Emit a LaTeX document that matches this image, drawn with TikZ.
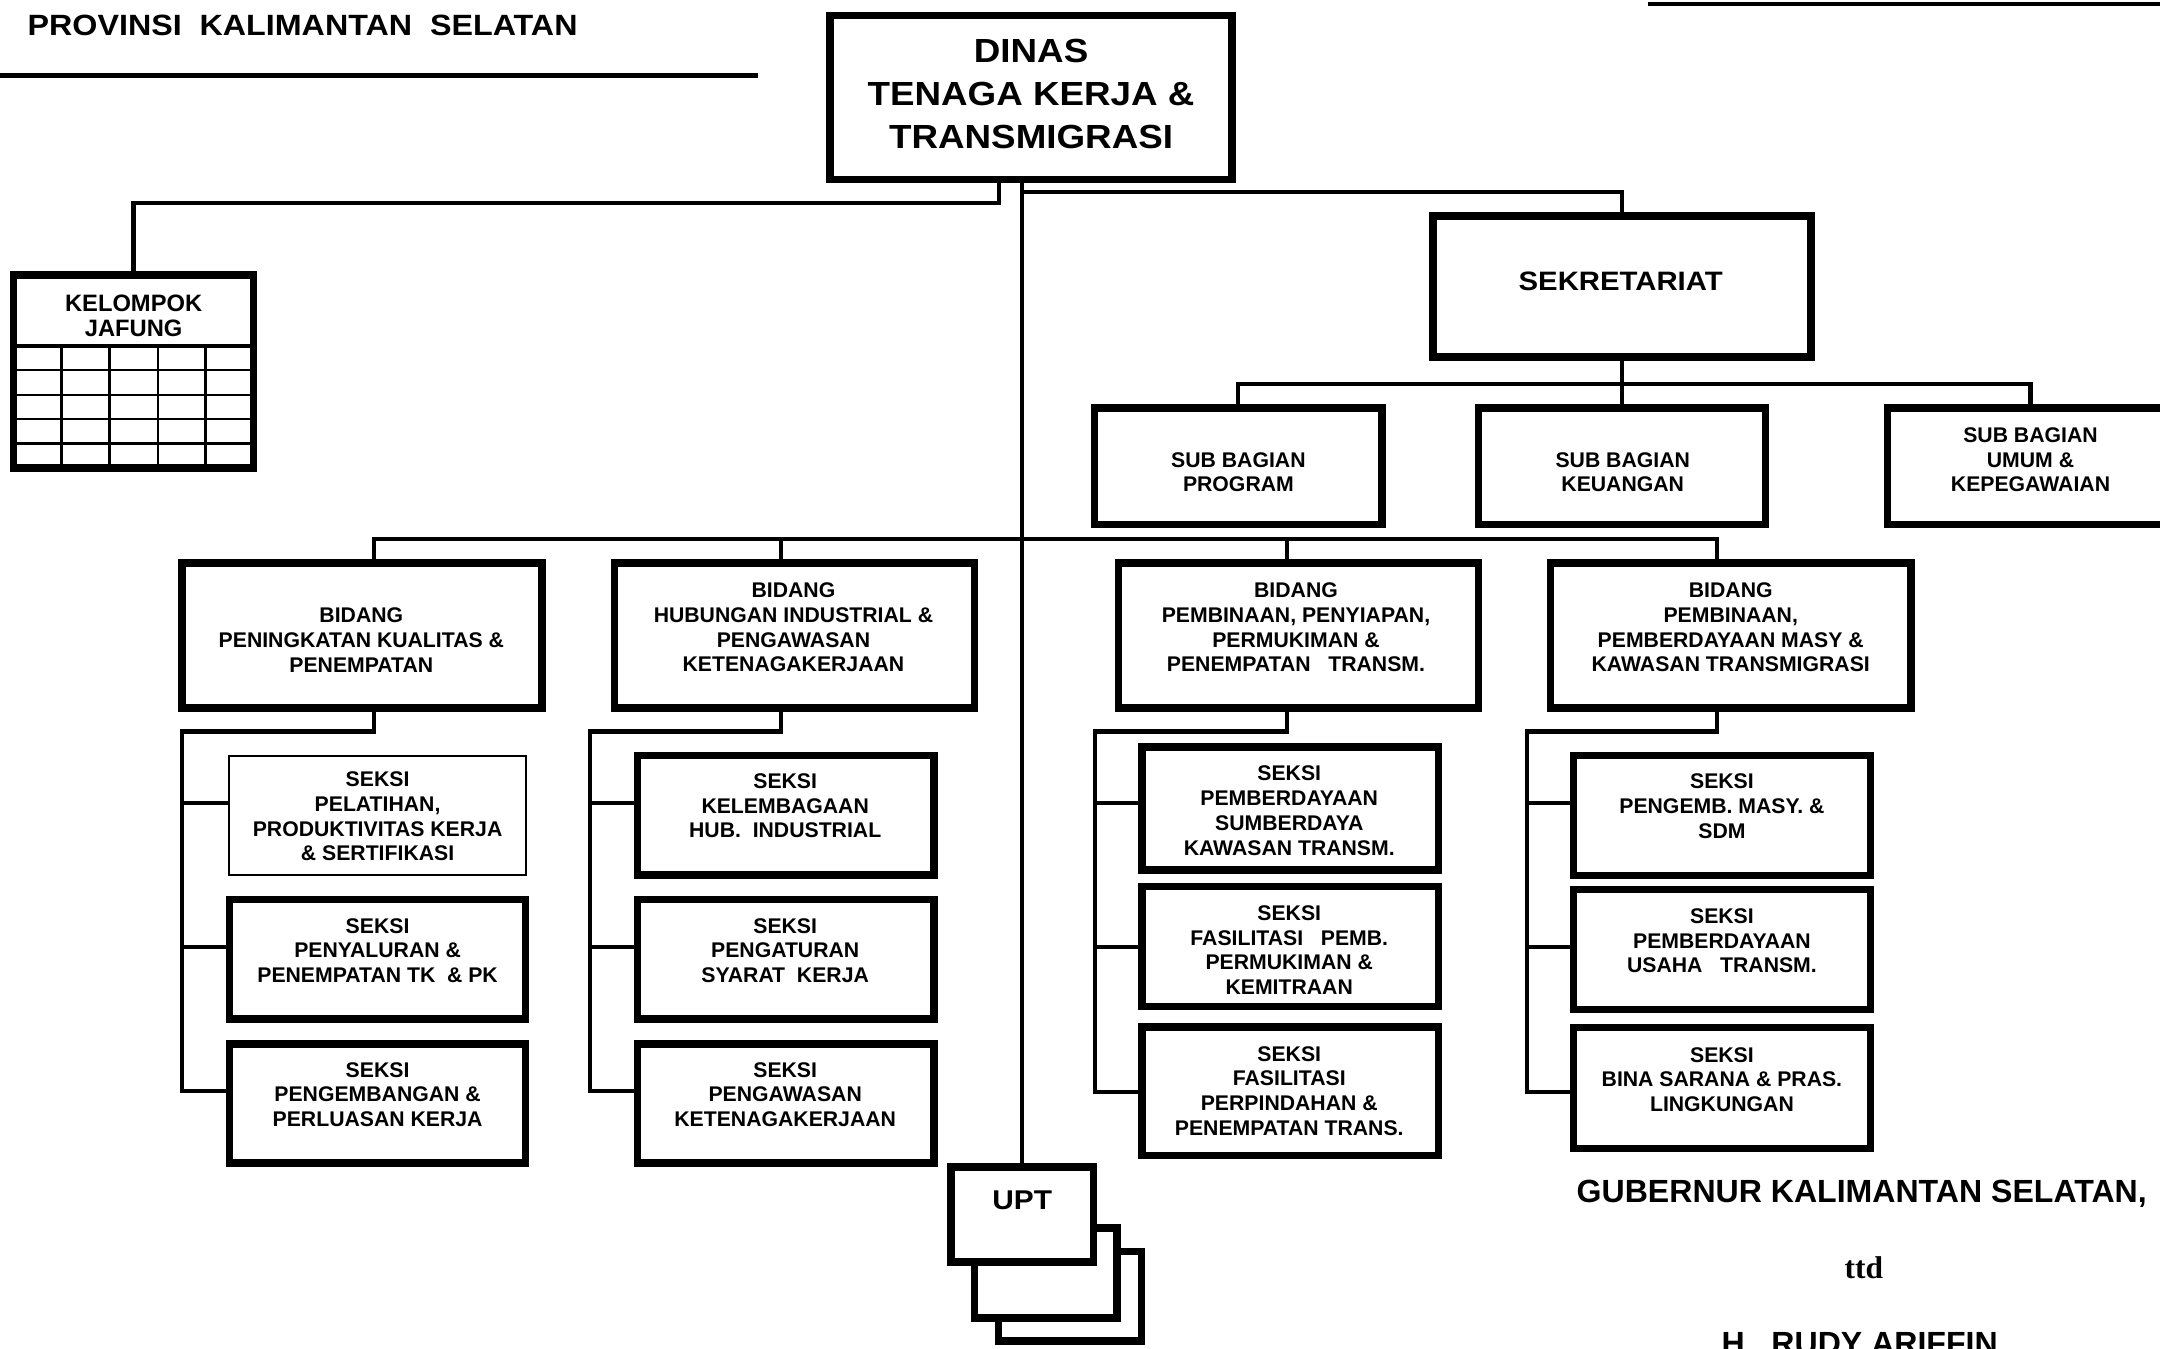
\documentclass[tikz,border=0pt]{standalone}
\usepackage{fontspec}
\setmainfont{Liberation Sans}
\newfontfamily\fwide[FakeStretch=1.1]{Liberation Sans}
\newfontfamily\fserif{Liberation Serif}
\usetikzlibrary{calc}
\tikzset{
  box/.style={draw, rectangle, line width=1.55pt, inner sep=0pt},
  thinbox/.style={draw, rectangle, line width=0.4pt, inner sep=0pt},
  sz/.style 2 args={minimum width=#1cm, minimum height=#2cm},
  conn/.style={line width=0.85pt, line join=miter},
  gridl/.style={line width=0.45pt},
  txt/.style={inner sep=0pt, align=center, font=\bfseries\fontsize{4.38}{5.1}\selectfont},
  txtkel/.style={inner sep=0pt, align=center, font=\bfseries\fontsize{4.9}{5.24}\selectfont},
  txtdinas/.style={inner sep=0pt, align=center, font=\fwide\bfseries\fontsize{6.9}{8.82}\selectfont},
  txtsek/.style={inner sep=0pt, align=center, font=\fwide\bfseries\fontsize{5.5}{6.6}\selectfont},
  txtupt/.style={inner sep=0pt, align=center, font=\fwide\bfseries\fontsize{5.6}{6.7}\selectfont},
  txtgub/.style={inner sep=0pt, align=center, font=\bfseries\fontsize{6.62}{8}\selectfont},
}
\begin{document}
\begin{tikzpicture}[x=0.01cm,y=-0.01cm]
\useasboundingbox (0,0) rectangle (1568,978.6);
\clip (0,0) rectangle (1568,978.6);

% header
\node[anchor=west, inner sep=0pt, font=\fwide\bfseries\fontsize{6.05}{7}\selectfont] (title) at (19.4,18.2) {PROVINSI\ \ KALIMANTAN\ \ SELATAN};
\draw[line width=1.17pt] (0,54.8) -- (550,54.8);
\draw[line width=0.85pt] (1196,2.7) -- (1568,2.7);

% DINAS
\node[box, sz={2.915}{1.19}] (dinas) at (748.5,70.75) {};
\node[txtdinas] (dinasT) at (748.5,68.2) {DINAS\\TENAGA KERJA \&\\TRANSMIGRASI};

% SEKRETARIAT
\node[box, sz={2.745}{1.02}] (sekret) at (1177.5,208) {};
\node[txtsek] (sekretT) at (1176.5,204.5) {SEKRETARIAT};

% Sub bagian
\node[box, sz={2.085}{0.845}] (sbprog) at (899,338.5) {};
\node[box, sz={2.08}{0.845}] (sbkeu) at (1177.5,338.5) {};
\node[box, sz={2.075}{0.845}] (sbumum) at (1474,338.5) {};
\node[txt] (sbprogT) at (899,342.8) {SUB BAGIAN\\PROGRAM};
\node[txt] (sbkeuT) at (1178,342.8) {SUB BAGIAN\\KEUANGAN};
\node[txt] (sbumumT) at (1474,333.7) {SUB BAGIAN\\UMUM \&\\KEPEGAWAIAN};

% Kelompok jafung
\node[box, sz={1.7385}{1.3995}] (kel) at (96.95,269.7) {};
\draw[line width=0.75pt] (10,251) -- (184,251);
\foreach \yy in {268.7,286.5,304.2,322} \draw[gridl] (10,\yy) -- (184,\yy);
\foreach \xx in {44.7,79.5,114.4,149.2} \draw[gridl] (\xx,251) -- (\xx,339.5);
\node[txtkel] (kelT) at (97,229.2) {KELOMPOK\\JAFUNG};

% Bidang
\node[box, sz={2.613}{1.0515}] (b1) at (262.75,461.3) {};
\node[box, sz={2.613}{1.0515}] (b2) at (576.7,461.3) {};
\node[box, sz={2.613}{1.0515}] (b3) at (942.55,461.3) {};
\node[box, sz={2.613}{1.0515}] (b4) at (1256.45,461.3) {};
\node[txt] (b1T) at (262.3,464.6) {BIDANG\\PENINGKATAN KUALITAS \&\\PENEMPATAN};
\node[txt] (b2T) at (576,455.4) {BIDANG\\HUBUNGAN INDUSTRIAL \&\\PENGAWASAN\\KETENAGAKERJAAN};
\node[txt] (b3T) at (940.8,455.4) {BIDANG\\PEMBINAAN, PENYIAPAN,\\PERMUKIMAN \&\\PENEMPATAN\ \ \ TRANSM.};
\node[txt] (b4T) at (1256.4,455.4) {BIDANG\\PEMBINAAN,\\PEMBERDAYAAN MASY \&\\KAWASAN TRANSMIGRASI};

% Seksi column 1
\node[thinbox, sz={2.151}{0.868}] (s1a) at (274.15,592) {};
\node[box, sz={2.1485}{0.8655}] (s1b) at (274.15,696.4) {};
\node[box, sz={2.1485}{0.8655}] (s1c) at (274.15,801) {};
\node[txt] (s1aT) at (274.1,592.8) {SEKSI\\PELATIHAN,\\PRODUKTIVITAS KERJA\\\& SERTIFIKASI};
\node[txt] (s1bT) at (274.1,690.1) {SEKSI\\PENYALURAN \&\\PENEMPATAN TK\ \ \& PK};
\node[txt] (s1cT) at (274.1,794.6) {SEKSI\\PENGEMBANGAN \&\\PERLUASAN KERJA};

% Seksi column 2
\node[box, sz={2.1485}{0.8695}] (s2a) at (570.35,591.8) {};
\node[box, sz={2.1485}{0.8655}] (s2b) at (570.35,696.4) {};
\node[box, sz={2.1485}{0.8655}] (s2c) at (570.35,801) {};
\node[txt] (s2aT) at (570,585) {SEKSI\\KELEMBAGAAN\\HUB.\ \ INDUSTRIAL};
\node[txt] (s2bT) at (570,690.1) {SEKSI\\PENGATURAN\\SYARAT\ \ KERJA};
\node[txt] (s2cT) at (570,794.6) {SEKSI\\PENGAWASAN\\KETENAGAKERJAAN};

% Seksi column 3
\node[box, sz={2.1485}{0.8935}] (s3a) at (936.65,587) {};
\node[box, sz={2.1485}{0.8705}] (s3b) at (936.65,686.95) {};
\node[box, sz={2.1485}{0.9335}] (s3c) at (936.65,792.2) {};
\node[txt] (s3aT) at (935.9,588.5) {SEKSI\\PEMBERDAYAAN\\SUMBERDAYA\\KAWASAN TRANSM.};
\node[txt] (s3bT) at (935.9,689.6) {SEKSI\\FASILITASI\ \ \ PEMB.\\PERMUKIMAN \&\\KEMITRAAN};
\node[txt] (s3cT) at (935.9,792) {SEKSI\\FASILITASI\\PERPINDAHAN \&\\PENEMPATAN TRANS.};

% Seksi column 4
\node[box, sz={2.1525}{0.8725}] (s4a) at (1250.05,591.95) {};
\node[box, sz={2.1525}{0.8715}] (s4b) at (1250.05,689.3) {};
\node[box, sz={2.1525}{0.8755}] (s4c) at (1250.05,789.8) {};
\node[txt] (s4aT) at (1250,585.3) {SEKSI\\PENGEMB. MASY. \&\\SDM};
\node[txt] (s4bT) at (1250,683) {SEKSI\\PEMBERDAYAAN\\USAHA\ \ \ TRANSM.};
\node[txt] (s4cT) at (1250,783.6) {SEKSI\\BINA SARANA \& PRAS.\\LINGKUNGAN};

% UPT stack
\node[box, fill=white, sz={1.0375}{0.6515}] (upt3) at (776.6,941) {};
\node[box, fill=white, sz={1.0365}{0.6515}] (upt2) at (759.15,924.1) {};
\node[box, fill=white, sz={1.0355}{0.6885}] (upt) at (742,881.65) {};
\node[txtupt] (uptT) at (742,871.6) {UPT};

% Signature
\node[txtgub] (gub) at (1351.5,866.7) {GUBERNUR KALIMANTAN SELATAN,};
\node[inner sep=0pt, font=\fserif\bfseries\fontsize{6.5}{8}\selectfont] (ttd) at (1353,920.6) {ttd};
\node[txtgub] (nama) at (1350,975.7) {H.\ \ RUDY ARIFFIN};

% connectors top
\coordinate (jL) at (725,147.6);
\coordinate (jR) at (742,139.5);
\draw[conn] (dinas.south -| jL) -- (jL) -| (kel.north);
\draw[conn] (dinas.south -| jR) -- (upt.north);
\draw[conn] (jR) -| (sekret.north);
\coordinate (sbBus) at (1177.5,278.5);
\draw[conn] (sekret.south) -- (sbkeu.north);
\draw[conn] (sbprog.north) |- (sbBus) -| (sbumum.north);

% bidang bus
\coordinate (d1) at (271.4,391);
\coordinate (d2) at (567.2,391);
\coordinate (d3) at (934.5,391);
\coordinate (d4) at (1246.6,391);
\draw[conn] (d1 |- b1.north) -- (d1) -- (d4) -- (d4 |- b4.north);
\draw[conn] (d2) -- (d2 |- b2.north);
\draw[conn] (d3) -- (d3 |- b3.north);

% brackets
\coordinate (k1) at (132,531);
\coordinate (k2) at (428,531);
\coordinate (k3) at (795,531);
\coordinate (k4) at (1108.7,531);
\coordinate (r1a) at (132,583.2);
\coordinate (r1b) at (132,687.7);
\coordinate (r1c) at (132,792);
\coordinate (r2a) at (428,583.2);
\coordinate (r2b) at (428,687.7);
\coordinate (r2c) at (428,792);
\coordinate (r3a) at (795,583.2);
\coordinate (r3b) at (795,687.7);
\coordinate (r3c) at (795,792.6);
\coordinate (r4a) at (1108.7,583.2);
\coordinate (r4b) at (1108.7,687.7);
\coordinate (r4c) at (1108.7,792.6);

\draw[conn] (d1 |- b1.south) -- (d1 |- k1) -- (k1) -- (r1c) -- (r1c -| s1c.west);
\draw[conn] (r1a) -- (r1a -| s1a.west);
\draw[conn] (r1b) -- (r1b -| s1b.west);

\draw[conn] (d2 |- b2.south) -- (d2 |- k2) -- (k2) -- (r2c) -- (r2c -| s2c.west);
\draw[conn] (r2a) -- (r2a -| s2a.west);
\draw[conn] (r2b) -- (r2b -| s2b.west);

\draw[conn] (d3 |- b3.south) -- (d3 |- k3) -- (k3) -- (r3c) -- (r3c -| s3c.west);
\draw[conn] (r3a) -- (r3a -| s3a.west);
\draw[conn] (r3b) -- (r3b -| s3b.west);

\draw[conn] (d4 |- b4.south) -- (d4 |- k4) -- (k4) -- (r4c) -- (r4c -| s4c.west);
\draw[conn] (r4a) -- (r4a -| s4a.west);
\draw[conn] (r4b) -- (r4b -| s4b.west);
\end{tikzpicture}
\end{document}
